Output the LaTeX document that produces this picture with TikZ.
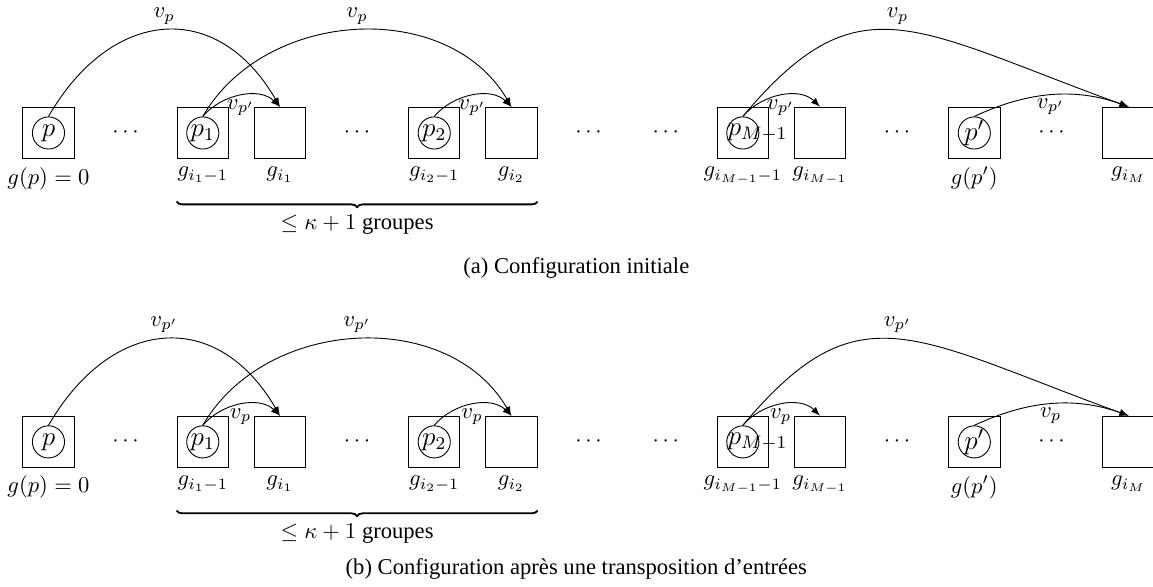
\documentclass[tikz,border=0pt]{standalone}
\usepackage[no-math]{fontspec}
\setmainfont{Liberation Serif}
\usetikzlibrary{decorations.pathreplacing}

\begin{document}
\begin{tikzpicture}[
		groupe/.style = {draw, minimum size = 0.8cm},
		proc/.style = {draw, circle, minimum size = 0.5cm, inner sep = 0pt, font = \large},
		fleche/.style = {-latex},
		accolade/.style = {decorate, decoration = {brace, mirror, amplitude = 2.5pt}, line width = 0.8pt},
	]
	\useasboundingbox (-0.754, 2.068) rectangle (17.18, -7.06) ;
	\foreach \r/\dy/\ycap/\vg/\vd/\titre in {a/0/-2.10/{v_p}/{v_{p'}}/{(a) Configuration initiale}, b/-4.805/-1.98/{v_{p'}}/{v_p}/{(b) Configuration après une transposition d’entrées}}{
		\begin{scope}[yshift = \dy cm] % Ligne \r
			\foreach \i/\lab in {0/{g(p) = 0}, 2/{g_{i_1-1}}, 3/{g_{i_1}}, 5/{g_{i_2-1}}, 6/{g_{i_2}}, 9/{g_{i_{M-1}-1}}, 10/{g_{i_{M-1}}}, 12/{g(p')}, 14/{g_{i_M}}}{
				\node [groupe] (g\r\i) at (\i*1.2, 0) {} ;
				\node [below] (l\r\i) at (g\r\i.south) {$\lab$} ;
			}
			\foreach \i in {1, 4, 7, 8, 11, 13}{
				\node (d\r\i) at (\i*1.2, 0) {$\cdots$} ;
			}
			% processus
			\foreach \i/\txt in {0/p, 2/p_1, 5/p_2, 12/p'}{
				\node [proc] (c\r\i) at (g\r\i) {$\txt$} ;
			}
			\node [proc] (c\r9) at (g\r9) {} ;
			\node [right, inner sep = 0.5pt, font = \large] (t\r9) at (c\r9.west) {$p_{M-1}$} ;
			% grands sauts
			\draw [fleche] (c\r0.north) to [out = 60, in = 120, distance = 1.95cm] node [midway, above, inner sep = 2.5pt] {$\vg$} (g\r3.north) ;
			\draw [fleche] (c\r2.north) to [out = 60, in = 120, distance = 1.95cm] node [midway, above, inner sep = 2.5pt] {$\vg$} (g\r6.north) ;
			\draw [fleche] (c\r9.north) to [out = 50, in = 160, out distance = 2.8cm, in distance = 3.6cm] node [midway, above, inner sep = 2.5pt] {$\vg$} (g\r14.north) ;
			% petits sauts
			\foreach \a/\b in {2/3, 5/6, 9/10}{
				\draw [fleche] (c\r\a.north) to [out = 50, in = 135, distance = 0.45cm] node [midway, below, inner sep = 1.5pt] {$\vd$} (g\r\b.north) ;
			}
			\draw [fleche] (c\r12.north) to [out = 25, in = 160, distance = 0.9cm] node [midway, below, inner sep = 1.5pt] {$\vd$} (g\r14.north) ;
			\draw [accolade] ([yshift = -0.66cm] g\r2.south west) -- node [below = 2pt] (acc\r) {$\leq \kappa + 1$ groupes} ([yshift = -0.66cm] g\r6.south east) ;
			\node (cap\r) at (8.21, \ycap) {\titre} ;
		\end{scope}
	}
\end{tikzpicture}
\end{document}
